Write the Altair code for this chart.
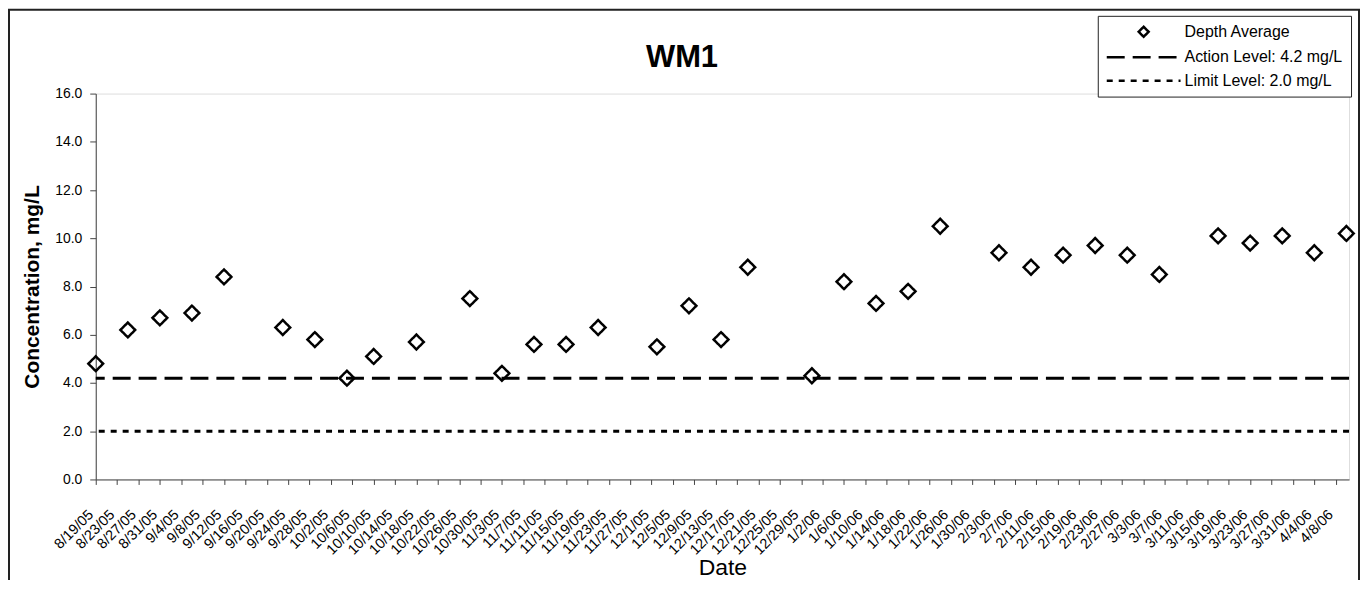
import altair as alt
import pandas as pd

# ---- data ----
chart_title = "WM1"
sample_dates = [
    "2005-08-19", "2005-08-25", "2005-08-31", "2005-09-06", "2005-09-12",
    "2005-09-23", "2005-09-29", "2005-10-05", "2005-10-10", "2005-10-18",
    "2005-10-28", "2005-11-03", "2005-11-09", "2005-11-15", "2005-11-21",
    "2005-12-02", "2005-12-08", "2005-12-14", "2005-12-19", "2005-12-31",
    "2006-01-06", "2006-01-12", "2006-01-18", "2006-01-24", "2006-02-04",
    "2006-02-10", "2006-02-16", "2006-02-22", "2006-02-28", "2006-03-06",
    "2006-03-17", "2006-03-23", "2006-03-29", "2006-04-04", "2006-04-10",
]
depth_average = [
    4.8, 6.2, 6.7, 6.9, 8.4,
    6.3, 5.8, 4.2, 5.1, 5.7,
    7.5, 4.4, 5.6, 5.6, 6.3,
    5.5, 7.2, 5.8, 8.8, 4.3,
    8.2, 7.3, 7.8, 10.5, 9.4,
    8.8, 9.3, 9.7, 9.3, 8.5,
    10.1, 9.8, 10.1, 9.4, 10.2,
]
series_names = ["Depth Average", "Action Level: 4.2 mg/L", "Limit Level: 2.0 mg/L"]
level_names = ["Action Level: 4.2 mg/L", "Limit Level: 2.0 mg/L"]
level_values = [4.2, 2.0]

x_tick_labels = [
    "8/19/05", "8/23/05", "8/27/05", "8/31/05", "9/4/05", "9/8/05", "9/12/05",
    "9/16/05", "9/20/05", "9/24/05", "9/28/05", "10/2/05", "10/6/05", "10/10/05",
    "10/14/05", "10/18/05", "10/22/05", "10/26/05", "10/30/05", "11/3/05",
    "11/7/05", "11/11/05", "11/15/05", "11/19/05", "11/23/05", "11/27/05",
    "12/1/05", "12/5/05", "12/9/05", "12/13/05", "12/17/05", "12/21/05",
    "12/25/05", "12/29/05", "1/2/06", "1/6/06", "1/10/06", "1/14/06", "1/18/06",
    "1/22/06", "1/26/06", "1/30/06", "2/3/06", "2/7/06", "2/11/06", "2/15/06",
    "2/19/06", "2/23/06", "2/27/06", "3/3/06", "3/7/06", "3/11/06", "3/15/06",
    "3/19/06", "3/23/06", "3/27/06", "3/31/06", "4/4/06", "4/8/06",
]
y_ticks = [0, 2, 4, 6, 8, 10, 12, 14, 16]


def to_dt(label):
    m, d, y = label.split("/")
    return alt.DateTime(year=2000 + int(y), month=int(m), date=int(d))


x_tick_values = [to_dt(s) for s in x_tick_labels]

pts = pd.DataFrame({
    "date": pd.to_datetime(sample_dates),
    "value": depth_average,
    "series": series_names[0],
})
lvl = pd.DataFrame({"series": level_names, "level": level_values})

FONT = "Liberation Sans"

shape_scale = alt.Scale(domain=series_names,
                        range=["diamond", "M-7.4,0H7.4", "M-7.4,0H7.4"])
dash_scale = alt.Scale(domain=series_names, range=[[1, 0], [18, 8], [6, 6]])

legend = alt.Legend(
    title=None, orient="none", legendX=1005, legendY=-78,
    padding=8, strokeColor="#222", fillColor="white",
    symbolSize=100, symbolStrokeWidth=2.5, symbolStrokeColor="black",
    symbolOffset=30, labelOffset=33, labelFontSize=16, labelFont=FONT,
    labelColor="black", rowPadding=7.5, labelLimit=400,
)

x_enc = alt.X(
    "date:T",
    scale=alt.Scale(domain=[alt.DateTime(year=2005, month=8, date=19),
                            alt.DateTime(year=2006, month=4, date=10, hours=12)],
                    nice=False),
    axis=alt.Axis(
        values=x_tick_values, format="%-m/%-d/%y", labelAngle=-45,
        labelAlign="right", labelBaseline="middle", labelOverlap=False,
        labelPadding=28, labelOffset=-5, labelFontSize=14.5, labelFont=FONT,
        labelColor="black",
        tickSize=5, tickColor="#444", domainColor="#444", grid=False,
        title="Date", titleFontSize=23, titleFontWeight="normal", titleFont=FONT,
        titleColor="black", titleY=95, titleBaseline="alphabetic",
    ),
)
y_enc = alt.Y(
    "value:Q",
    scale=alt.Scale(domain=[0, 16], nice=False),
    axis=alt.Axis(
        values=y_ticks, format=".1f", labelFontSize=14, labelFont=FONT,
        labelColor="black", labelPadding=8, tickSize=6, tickColor="#444",
        domainColor="#444", grid=False,
        title="Concentration, mg/L", titleFontSize=21, titleFontWeight="bold",
        titleFont=FONT, titleColor="black", titleX=-63, titleY=193.5,
        titleAngle=-90, titleAlign="center", titleBaseline="middle",
    ),
)

points = alt.Chart(pts).mark_point(
    filled=False, size=220, strokeWidth=2.5, color="black", opacity=1
).encode(
    x=x_enc,
    y=y_enc,
    shape=alt.Shape("series:N", scale=shape_scale, legend=legend),
    strokeDash=alt.StrokeDash("series:N", scale=dash_scale, legend=legend),
)

rules = alt.Chart(lvl).mark_rule(color="black", strokeWidth=3).encode(
    y=alt.Y("level:Q"),
    strokeDash=alt.StrokeDash("series:N", scale=dash_scale, legend=legend),
)

one_row = pd.DataFrame({"f": [0]})

frame = alt.Chart(one_row).mark_rect(
    fillOpacity=0, stroke="#222", strokeWidth=2
).encode(
    x=alt.value(-87), x2=alt.value(1267), y=alt.value(-84), y2=alt.value(520)
)

title = alt.Chart(one_row).mark_text(
    text=chart_title, font=FONT, fontSize=31, fontWeight="bold", color="black",
    align="center", baseline="alphabetic"
).encode(x=alt.value(588), y=alt.value(-27))

chart = alt.layer(frame, title, rules, points).properties(
    width=1257, height=387,
    padding={"left": 88, "top": 85, "right": 12, "bottom": 100},
    autosize="none",
).configure_view(stroke=None).configure(font=FONT)

chart.save("out.html", embed_options={"renderer": "svg", "actions": False})
